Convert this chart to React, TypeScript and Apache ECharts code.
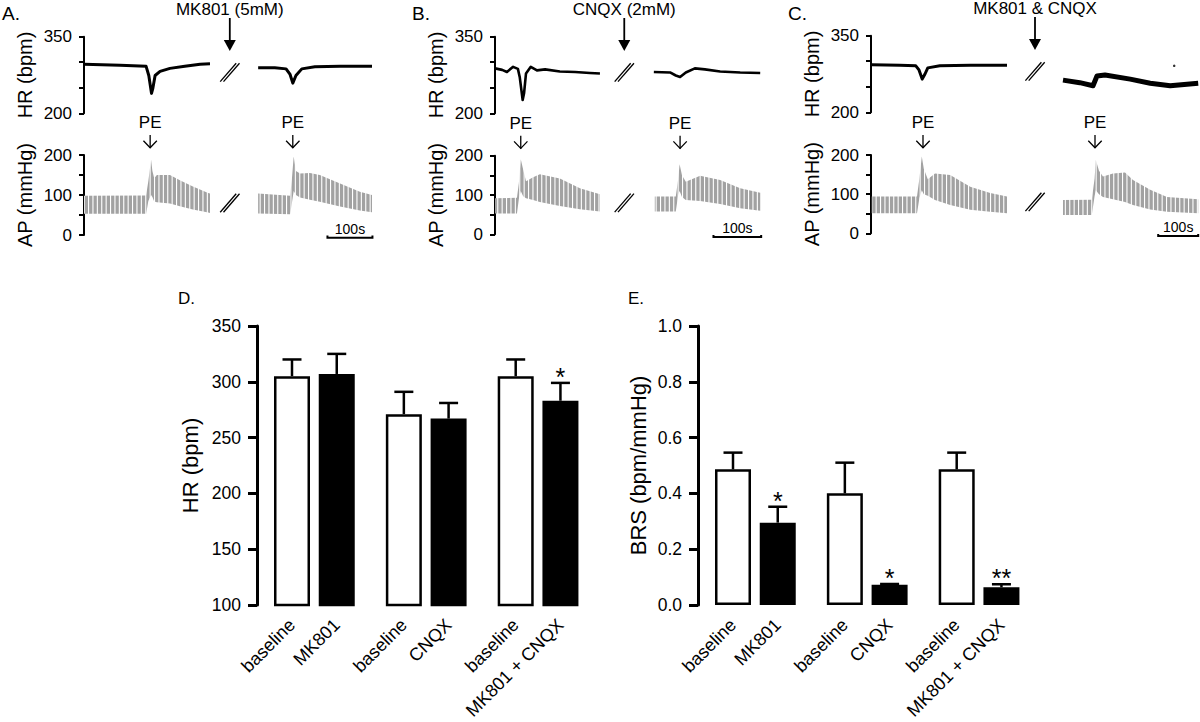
import React, { useEffect, useRef } from 'react';
import * as echarts from 'echarts';

const FONT = 'Liberation Sans, Arial, Helvetica, sans-serif';

// ---------------- Panel A: MK801 (5mM) ----------------
const aHrLeftT = [0, 80, 138, 144, 150, 153, 158, 169, 191, 224, 258, 280];
const aHrLeftV = [296, 294, 292, 274, 239, 249, 274, 282, 288, 292, 296, 297];
const aHrRightT = [387, 424, 449, 458, 464, 471, 484, 513, 569, 640];
const aHrRightV = [289, 289, 287, 276, 259, 274, 287, 291, 292, 292];
const aApLeftT = [0, 138, 143, 149, 152, 156, 162, 191, 213, 242, 276, 280];
const aApLeftSys = [98, 99, 135, 188, 160, 142, 150, 150, 137, 121, 105, 104];
const aApLeftDia = [53, 53, 85, 100, 95, 84, 82, 79, 72, 64, 56, 55];
const aApRightT = [387, 458, 462, 466, 471, 480, 502, 524, 569, 613, 640];
const aApRightSys = [104, 98, 140, 196, 160, 154, 155, 150, 129, 108, 100];
const aApRightDia = [54, 52, 80, 110, 100, 94, 88, 83, 71, 61, 57];
const aBreakT = 324;
const aPeT = [147, 464];
const aScaleBar = [541, 641];

// ---------------- Panel B: CNQX (2mM) ----------------
const bHrLeftT = [0, 15, 25, 38, 48, 52, 58, 61, 65, 75, 88, 105, 136, 168, 199, 220];
const bHrLeftV = [288, 285, 281, 291, 287, 270, 226, 240, 278, 291, 284, 286, 282, 281, 279, 278];
const bHrRightT = [333, 367, 379, 388, 400, 419, 440, 472, 514, 556];
const bHrRightV = [281, 280, 274, 271, 280, 288, 286, 282, 280, 279];
const bApLeftT = [0, 46, 50, 54, 59, 65, 80, 94, 136, 178, 220];
const bApLeftSys = [92, 93, 130, 191, 165, 135, 145, 153, 142, 117, 102];
const bApLeftDia = [53, 53, 90, 110, 97, 92, 87, 82, 72, 64, 58];
const bApRightT = [335, 379, 384, 387, 392, 400, 430, 472, 514, 556];
const bApRightSys = [96, 96, 140, 178, 150, 134, 149, 138, 117, 106];
const bApRightDia = [58, 58, 100, 110, 95, 87, 85, 77, 66, 60];
const bBreakT = 271;
const bPeT = [54, 388];
const bScaleBar = [458, 558];

// ---------------- Panel C: MK801 & CNQX ----------------
const cHrLeftT = [2, 72, 112, 120, 128, 135, 142, 172, 248, 340];
const cHrLeftV = [293, 292, 291, 283, 265, 275, 287, 291, 292, 292];
const cHrRightT = [480, 522, 555, 565, 585, 648, 698, 748, 818];
const cHrRightV = [263, 258, 252, 271, 273, 265, 257, 252, 257];
const cHrDots = [[758, 291]];
const cApLeftT = [2, 115, 121, 127, 132, 142, 160, 198, 248, 298, 340];
const cApLeftSys = [94, 94, 140, 196, 165, 138, 153, 149, 119, 103, 94];
const cApLeftDia = [51, 51, 90, 110, 100, 96, 85, 72, 60, 55, 51];
const cApRightT = [480, 552, 559, 562, 570, 580, 605, 635, 655, 698, 740, 818];
const cApRightSys = [85, 86, 140, 187, 160, 145, 153, 155, 136, 111, 93, 87];
const cApRightDia = [47, 47, 95, 110, 100, 93, 87, 80, 72, 61, 55, 51];
const cBreakT = 410;
const cPeT = [130, 560];
const cScaleBar = [718, 818];

const panelLabels = ['A.', 'B.', 'C.'];
const drugLabels = ['MK801 (5mM)', 'CNQX (2mM)', 'MK801 & CNQX'];
const peLabel = 'PE';
const scaleLabel = '100s';
const hrTickLabels = [200, 350];
const apTickLabels = [0, 100, 200];

// ---------------- Panels D / E ----------------
const groupCategories = ['baseline', 'MK801', 'baseline', 'CNQX', 'baseline', 'MK801 + CNQX'];
const isTreatment = [false, true, false, true, false, true];
const hrMeans = [305, 307, 271, 267, 305, 283];
const hrSem = [15, 18, 20, 14, 15, 16];
const hrSig = ['', '', '', '', '', '*'];
const brsMeans = [0.486, 0.295, 0.4, 0.072, 0.486, 0.063];
const brsSem = [0.06, 0.057, 0.11, 0.003, 0.06, 0.011];
const brsSig = ['', '*', '', '*', '', '**'];

// ---------------- layout (not data) ----------------
const topLayout = [
  { labelX: 2, left: 84, pxPerSec: 0.45, xMax: 642, hrTop: 36.7, hrH: 76.6, apTop: 155, apH: 80, hrW: [3, 3] },
  { labelX: 412, left: 495, pxPerSec: 0.477, xMax: 560, hrTop: 36.7, hrH: 76.6, apTop: 155.7, apH: 78.6, hrW: [2.6, 2.6] },
  { labelX: 788, left: 871, pxPerSec: 0.4, xMax: 820, hrTop: 35.7, hrH: 76.6, apTop: 155, apH: 78.3, hrW: [3, 5] },
];
const slotOf = [1, 3, 6, 8, 11, 13];
const SLOT_COUNT = 15;
const SLOT_W = 22.37;

const panels = [
  {
    hr: [{ t: aHrLeftT, v: aHrLeftV }, { t: aHrRightT, v: aHrRightV }],
    ap: [{ t: aApLeftT, sys: aApLeftSys, dia: aApLeftDia }, { t: aApRightT, sys: aApRightSys, dia: aApRightDia }],
    breakT: aBreakT, peT: aPeT, scale: aScaleBar, dots: [] as number[][],
  },
  {
    hr: [{ t: bHrLeftT, v: bHrLeftV }, { t: bHrRightT, v: bHrRightV }],
    ap: [{ t: bApLeftT, sys: bApLeftSys, dia: bApLeftDia }, { t: bApRightT, sys: bApRightSys, dia: bApRightDia }],
    breakT: bBreakT, peT: bPeT, scale: bScaleBar, dots: [] as number[][],
  },
  {
    hr: [{ t: cHrLeftT, v: cHrLeftV }, { t: cHrRightT, v: cHrRightV }],
    ap: [{ t: cApLeftT, sys: cApLeftSys, dia: cApLeftDia }, { t: cApRightT, sys: cApRightSys, dia: cApRightDia }],
    breakT: cBreakT, peT: cPeT, scale: cScaleBar, dots: cHrDots,
  },
];

function makeStripes() {
  const c = document.createElement('canvas');
  c.width = 22;
  c.height = 4;
  const ctx = c.getContext('2d')!;
  ctx.fillStyle = '#a2a2a2';
  ctx.fillRect(0, 0, 22, 4);
  ctx.fillStyle = '#ffffff';
  for (let i = 0; i < 5; i++) ctx.fillRect(i * 4.4, 0, 1.1, 4);
  return c;
}

const breakLines = (cx: number, cy: number) => [
  { type: 'line', shape: { x1: cx - 9.6, y1: cy + 9.2, x2: cx + 6.4, y2: cy - 9.2 }, style: { stroke: '#000', lineWidth: 1.3 } },
  { type: 'line', shape: { x1: cx - 6.3, y1: cy + 9.2, x2: cx + 9.7, y2: cy - 9.2 }, style: { stroke: '#000', lineWidth: 1.3 } },
];

const blackAxis = (w: number, tickLen: number) => ({
  axisLine: { show: true, onZero: false, lineStyle: { color: '#000', width: w } },
  axisTick: { show: true, inside: false, length: tickLen, lineStyle: { color: '#000', width: w } },
  splitLine: { show: false },
});

function buildOption() {
  const stripes = makeStripes();
  const pattern: any = { image: stripes, repeat: 'repeat', imageWidth: 22, imageHeight: 4 };
  const grids: any[] = [];
  const xAxes: any[] = [];
  const yAxes: any[] = [];
  const series: any[] = [];
  const graphics: any[] = [];

  panels.forEach((p, k) => {
    const L = topLayout[k];
    const gHr = 2 * k;
    const gAp = 2 * k + 1;
    const width = L.xMax * L.pxPerSec;
    grids.push({ left: L.left, top: L.hrTop, width, height: L.hrH, containLabel: false });
    grids.push({ left: L.left, top: L.apTop, width, height: L.apH, containLabel: false });
    xAxes.push({ type: 'value', gridIndex: gHr, min: 0, max: L.xMax, show: false });
    xAxes.push({ type: 'value', gridIndex: gAp, min: 0, max: L.xMax, show: false });
    yAxes.push({
      type: 'value', gridIndex: gHr, min: 200, max: 350, interval: 50,
      name: 'HR (bpm)', nameLocation: 'middle', nameRotate: 90, nameGap: 49,
      nameTextStyle: { fontSize: 20, color: '#000', fontFamily: FONT },
      ...blackAxis(2, 5),
      axisLabel: { color: '#000', fontSize: 17, margin: 12, fontFamily: FONT,
        formatter: (v: number) => (hrTickLabels.includes(v) ? String(v) : '') },
    });
    yAxes.push({
      type: 'value', gridIndex: gAp, min: 0, max: 200, interval: 50,
      name: 'AP (mmHg)', nameLocation: 'middle', nameRotate: 90, nameGap: 49,
      nameTextStyle: { fontSize: 20, color: '#000', fontFamily: FONT },
      ...blackAxis(2, 5),
      axisLabel: { color: '#000', fontSize: 17, margin: 12, fontFamily: FONT,
        formatter: (v: number) => (apTickLabels.includes(v) ? String(v) : '') },
    });

    p.hr.forEach((seg, j) => {
      series.push({
        type: 'line', xAxisIndex: gHr, yAxisIndex: gHr, silent: true, symbol: 'none',
        data: seg.t.map((t, i) => [t, seg.v[i]]),
        lineStyle: { color: '#000', width: L.hrW[j], join: 'round' },
      });
    });
    if (p.dots.length) {
      series.push({
        type: 'scatter', xAxisIndex: gHr, yAxisIndex: gHr, silent: true,
        data: p.dots, symbolSize: 2.5, itemStyle: { color: '#000' },
      });
    }

    // AP pulsatile band: polygon between systolic and diastolic envelopes
    const apSegs = p.ap;
    series.push({
      type: 'custom', xAxisIndex: gAp, yAxisIndex: gAp, silent: true, z: 2,
      data: apSegs.map((seg, j) => [seg.t[0], seg.dia[0], j]),
      renderItem: (params: any, api: any) => {
        const seg = apSegs[api.value(2)];
        const upper = seg.t.map((t, i) => api.coord([t, seg.sys[i]]));
        const lower = seg.t.map((t, i) => api.coord([t, seg.dia[i]])).reverse();
        return {
          type: 'polygon',
          shape: { points: upper.concat(lower) },
          style: { fill: pattern, stroke: 'none' },
        };
      },
    });

    const drug = drugLabels[k];
    series.push({
      type: 'custom', xAxisIndex: gHr, yAxisIndex: gHr, silent: true, clip: false, z: 5,
      data: [[p.breakT, 280]],
      renderItem: (params: any, api: any) => {
        const c = api.coord([api.value(0), api.value(1)]);
        const top = api.coord([api.value(0), 350]);
        return {
          type: 'group',
          children: [
            ...breakLines(c[0], c[1]),
            { type: 'line', shape: { x1: top[0], y1: top[1] - 18.7, x2: top[0], y2: top[1] + 4 }, style: { stroke: '#000', lineWidth: 1.8 } },
            { type: 'polygon', shape: { points: [[top[0] - 6, top[1] + 3.3], [top[0] + 6, top[1] + 3.3], [top[0], top[1] + 14.3]] }, style: { fill: '#000' } },
            { type: 'text', x: top[0], y: top[1] - 27.5, style: { text: drug, fontSize: 17, fontFamily: FONT, fill: '#000', align: 'center', verticalAlign: 'middle' } },
          ],
        };
      },
    });

    const apMarks: number[][] = [[p.breakT, 80, 0, 0]];
    p.peT.forEach((t) => apMarks.push([t, 200, 1, 0]));
    apMarks.push([p.scale[0], 0, 2, p.scale[1]]);
    series.push({
      type: 'custom', xAxisIndex: gAp, yAxisIndex: gAp, silent: true, clip: false, z: 5,
      data: apMarks,
      renderItem: (params: any, api: any) => {
        const kind = api.value(2);
        const c = api.coord([api.value(0), api.value(1)]);
        if (kind === 0) return { type: 'group', children: breakLines(c[0], c[1]) };
        if (kind === 1) {
          return {
            type: 'group',
            children: [
              { type: 'text', x: c[0], y: c[1] - 32.5, style: { text: peLabel, fontSize: 17, fontFamily: FONT, fill: '#000', align: 'center', verticalAlign: 'middle' } },
              { type: 'line', shape: { x1: c[0], y1: c[1] - 20, x2: c[0], y2: c[1] - 7 }, style: { stroke: '#000', lineWidth: 1.3 } },
              { type: 'polyline', shape: { points: [[c[0] - 6.7, c[1] - 14.3], [c[0], c[1] - 7.3], [c[0] + 6.7, c[1] - 14.3]] }, style: { stroke: '#000', lineWidth: 1.3, fill: 'none' } },
            ],
          };
        }
        const b = api.coord([api.value(3), 0]);
        return {
          type: 'group',
          children: [
            { type: 'polyline', shape: { points: [[c[0], c[1] + 0.6], [c[0], c[1] + 2.8], [b[0], b[1] + 2.8], [b[0], b[1] + 0.6]] }, style: { stroke: '#000', lineWidth: 2, fill: 'none' } },
            { type: 'text', x: (c[0] + b[0]) / 2, y: c[1] - 6.5, style: { text: scaleLabel, fontSize: 14, fontFamily: FONT, fill: '#000', align: 'center', verticalAlign: 'middle' } },
          ],
        };
      },
    });

    graphics.push({ type: 'text', x: L.labelX, y: 13.5, style: { text: panelLabels[k], fontSize: 19, fontFamily: FONT, fill: '#000', verticalAlign: 'middle' } });
  });

  // ---------- bar panels ----------
  const barPanels = [
    { label: 'D.', labelX: 178, axisX: 257, means: hrMeans, sem: hrSem, sig: hrSig, min: 100, max: 350, interval: 50, name: 'HR (bpm)', nameGap: 56, fmt: (v: number) => String(v) },
    { label: 'E.', labelX: 628, axisX: 698, means: brsMeans, sem: brsSem, sig: brsSig, min: 0, max: 1, interval: 0.2, name: 'BRS (bpm/mmHg)', nameGap: 49, fmt: (v: number) => v.toFixed(1) },
  ];
  const slotNames = Array.from({ length: SLOT_COUNT }, () => '');
  slotOf.forEach((s, i) => { slotNames[s] = groupCategories[i]; });

  barPanels.forEach((bp, k) => {
    const g = 6 + k;
    const firstOffset = 35;
    const yOff = firstOffset - 1.5 * SLOT_W;
    grids.push({ left: bp.axisX + yOff, top: 326, width: SLOT_COUNT * SLOT_W, height: 279, containLabel: false });
    xAxes.push({
      type: 'category', gridIndex: g, data: slotNames,
      axisLine: { show: false }, axisTick: { show: false }, splitLine: { show: false },
      axisLabel: { interval: 0, rotate: 45, fontSize: 18, color: '#000', margin: 17, fontFamily: FONT },
    });
    yAxes.push({
      type: 'value', gridIndex: g, min: bp.min, max: bp.max, interval: bp.interval, offset: yOff,
      name: bp.name, nameLocation: 'middle', nameRotate: 90, nameGap: bp.nameGap,
      nameTextStyle: { fontSize: 22, color: '#000', fontFamily: FONT },
      ...blackAxis(3, 9),
      axisLabel: { color: '#000', fontSize: 17.5, margin: 16, fontFamily: FONT, formatter: bp.fmt },
    });
    const barData: any[] = Array.from({ length: SLOT_COUNT }, () => '-');
    bp.means.forEach((m, i) => {
      barData[slotOf[i]] = { value: m, itemStyle: { color: isTreatment[i] ? '#000' : '#fff', borderColor: '#000', borderWidth: 2.5 } };
    });
    series.push({
      type: 'bar', xAxisIndex: g, yAxisIndex: g, silent: true, barWidth: 36, data: barData,
    });
    const sig = bp.sig;
    series.push({
      type: 'custom', xAxisIndex: g, yAxisIndex: g, silent: true, clip: false, z: 5,
      data: bp.means.map((m, i) => [slotOf[i], m, m + bp.sem[i], i]),
      renderItem: (params: any, api: any) => {
        const p0 = api.coord([api.value(0), api.value(1)]);
        const p1 = api.coord([api.value(0), api.value(2)]);
        const s = sig[api.value(3)];
        const children: any[] = [
          { type: 'line', shape: { x1: p0[0], y1: p0[1], x2: p1[0], y2: p1[1] }, style: { stroke: '#000', lineWidth: 2.5 } },
          { type: 'line', shape: { x1: p1[0] - 9.5, y1: p1[1], x2: p1[0] + 9.5, y2: p1[1] }, style: { stroke: '#000', lineWidth: 2.5 } },
        ];
        if (s) {
          children.push({ type: 'text', x: p1[0], y: p1[1] + 6.5, style: { text: s, fontSize: 25, fontFamily: FONT, fill: '#000', align: 'center', verticalAlign: 'bottom' } });
        }
        return { type: 'group', children };
      },
    });
    graphics.push({ type: 'text', x: bp.labelX, y: 298, style: { text: bp.label, fontSize: 17, fontFamily: FONT, fill: '#000', verticalAlign: 'middle' } });
  });

  return {
    animation: false,
    backgroundColor: '#fff',
    textStyle: { fontFamily: FONT },
    grid: grids,
    xAxis: xAxes,
    yAxis: yAxes,
    series,
    graphic: graphics,
  };
}

export default function App() {
  const ref = useRef<HTMLDivElement>(null);
  useEffect(() => {
    if (!ref.current) return;
    const chart = echarts.init(ref.current, null, { renderer: 'svg' });
    chart.setOption(buildOption() as any);
    return () => chart.dispose();
  }, []);
  return (
    <div
      ref={ref}
      style={{ position: 'fixed', left: 0, top: 0, width: 1200, height: 722, background: '#fff' }}
    />
  );
}
